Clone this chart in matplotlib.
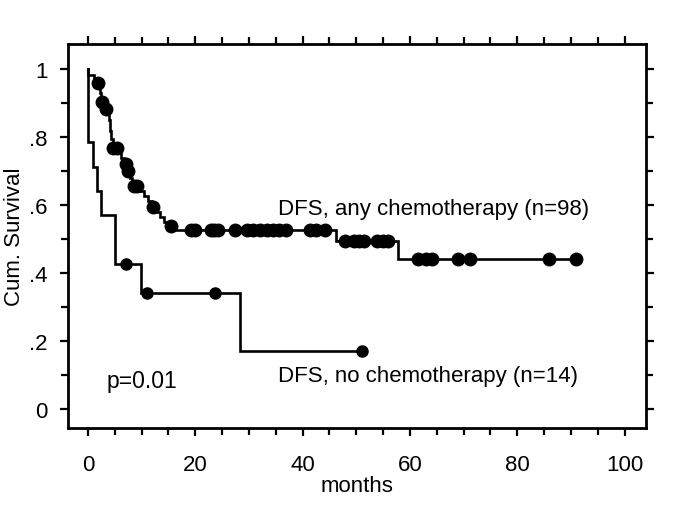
import numpy as np
import matplotlib
matplotlib.use("Agg")
import matplotlib.pyplot as plt
from matplotlib.ticker import MultipleLocator, FixedLocator

plt.rcParams['font.family'] = ['Liberation Sans', 'DejaVu Sans']

# ---- Data: any chemotherapy (n=98) ----
chemo_event_t = [0.1, 1.1, 2.2, 2.5, 3.2, 3.8, 4.0, 4.2, 4.4, 4.6, 5.8, 6.2, 6.8, 7.3, 7.8,
                 8.3, 9.6, 10.4, 11.2, 12.0, 12.8, 13.5, 14.2, 15.0, 16.2, 46.3, 57.8]
chemo_event_s = [0.983, 0.96, 0.93, 0.905, 0.885, 0.87, 0.85, 0.82, 0.795, 0.768, 0.755, 0.74, 0.722, 0.70, 0.68,
                 0.657, 0.642, 0.628, 0.612, 0.595, 0.58, 0.565, 0.55, 0.538, 0.527, 0.495, 0.443]
chemo_cens_t = [1.9, 2.7, 3.4, 4.7, 5.4, 7.1, 7.4, 8.6, 9.2, 12.2, 15.5,
                19.3, 19.9, 23.0, 23.5, 24.3, 27.4, 29.6, 30.8, 32.0, 33.3, 34.5, 35.6, 37.0,
                41.3, 42.6, 44.1,
                48.0, 49.5, 50.6, 51.5, 53.9, 55.0, 56.0,
                61.6, 63.0, 64.2, 69.0, 71.2, 85.9, 91.0]

# ---- Data: no chemotherapy (n=14) ----
nochemo_event_t = [0.1, 1.0, 1.7, 2.5, 5.0, 9.9, 28.3]
nochemo_event_s = [0.786, 0.714, 0.643, 0.571, 0.429, 0.343, 0.171]
nochemo_cens_t = [7.2, 11.0, 23.7, 51.0]

x_ticks = [0, 20, 40, 60, 80, 100]
y_ticks = [0, 0.2, 0.4, 0.6, 0.8, 1.0]
y_ticklabels = ['0', '.2', '.4', '.6', '.8', '1']


def step_value(ev_t, ev_s, t):
    s = 1.0
    for et, es in zip(ev_t, ev_s):
        if et <= t:
            s = es
    return s


def draw_km(ax, ev_t, ev_s, cens_t, ms):
    end_t = max(max(ev_t), max(cens_t))
    xs = [0.0] + list(ev_t) + [end_t]
    ys = [1.0] + list(ev_s) + [ev_s[-1]]
    ax.step(xs, ys, where='post', color='black', lw=1.9, solid_joinstyle='miter')
    cy = [step_value(ev_t, ev_s, t) for t in cens_t]
    ax.plot(cens_t, cy, 'o', color='black', ms=ms, mec='black', zorder=3)


fig = plt.figure(figsize=(6.85, 5.10), dpi=100)
ax = fig.add_axes([68 / 685, 1 - 429 / 510, (646 - 68) / 685, (429 - 45) / 510])

draw_km(ax, chemo_event_t, chemo_event_s, chemo_cens_t, 9)
draw_km(ax, nochemo_event_t, nochemo_event_s, nochemo_cens_t, 8)

ax.set_xlim(-3.7, 104.0)
ax.set_ylim(-0.055, 1.075)

ax.xaxis.set_major_locator(FixedLocator(x_ticks))
ax.xaxis.set_minor_locator(MultipleLocator(5))
ax.yaxis.set_major_locator(FixedLocator(y_ticks))
ax.set_yticklabels(y_ticklabels)
ax.yaxis.set_minor_locator(MultipleLocator(0.1))

ax.tick_params(which='both', direction='out', top=True, right=True, width=1.6, labelsize=16, colors='black')
ax.tick_params(which='major', length=6, pad=8.5)
ax.tick_params(which='minor', length=5)
ax.tick_params(axis='x', which='major', pad=13)

for sp in ax.spines.values():
    sp.set_linewidth(2.0)

ax.set_xlabel('months', fontsize=16, labelpad=0)
ax.set_ylabel('Cum. Survival', fontsize=16)
ax.yaxis.set_label_coords(-0.074, 0.5)

ax.text(35.4, 0.59, 'DFS, any chemotherapy (n=98)', fontsize=16, ha='left', va='center')
ax.text(35.4, 0.10, 'DFS, no chemotherapy (n=14)', fontsize=16, ha='left', va='center')
ax.text(3.4, 0.085, 'p=0.01', fontsize=16.5, ha='left', va='center')

fig.savefig('out.png', dpi=100)
